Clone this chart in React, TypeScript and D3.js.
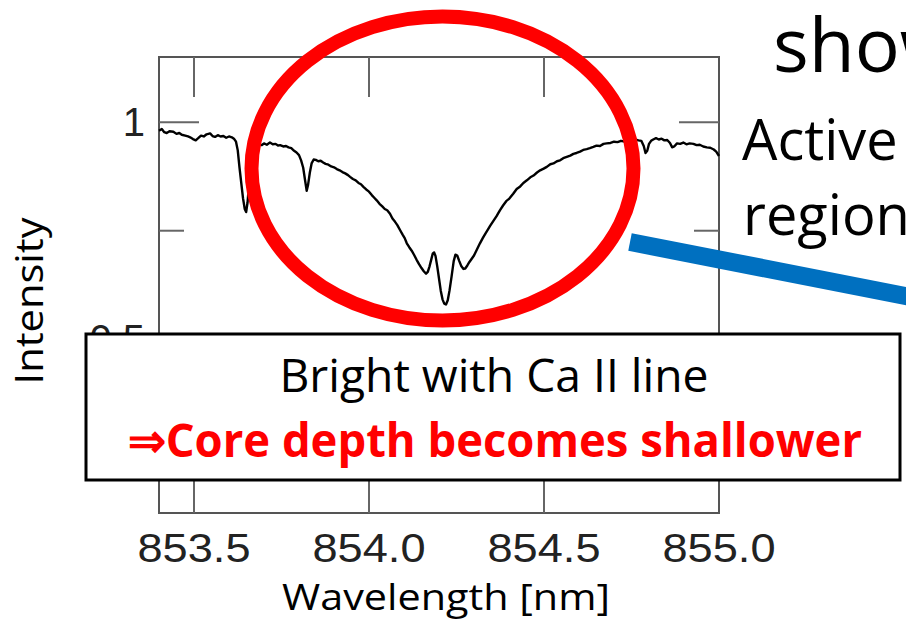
import * as d3 from "d3";

// Ca II 854.2 nm profile
const wavelength = [
  853.4, 853.408, 853.415, 853.422, 853.43, 853.441, 853.45, 853.458, 853.465, 853.475,
  853.483, 853.489, 853.497, 853.505, 853.512, 853.52, 853.528, 853.536, 853.546, 853.553,
  853.56, 853.568, 853.576, 853.584, 853.592, 853.6, 853.608, 853.615, 853.62, 853.625,
  853.63, 853.635, 853.64, 853.645, 853.649, 853.653, 853.658, 853.663, 853.668, 853.675,
  853.684, 853.693, 853.7, 853.708, 853.717, 853.725, 853.733, 853.74, 853.746, 853.755,
  853.763, 853.77, 853.778, 853.786, 853.793, 853.8, 853.806, 853.812, 853.817, 853.822,
  853.826, 853.831, 853.836, 853.842, 853.848, 853.855, 853.862, 853.869, 853.876, 853.884,
  853.892, 853.9, 853.908, 853.916, 853.924, 853.932, 853.94, 853.946, 853.954, 853.962,
  853.97, 853.977, 853.984, 853.992, 854.0, 854.008, 854.015, 854.022, 854.03, 854.038,
  854.045, 854.052, 854.06, 854.067, 854.074, 854.081, 854.089, 854.096, 854.102, 854.108,
  854.115, 854.122, 854.129, 854.136, 854.143, 854.15, 854.157, 854.163, 854.168, 854.173,
  854.178, 854.182, 854.186, 854.19, 854.195, 854.2, 854.205, 854.21, 854.215, 854.22,
  854.225, 854.23, 854.236, 854.242, 854.247, 854.252, 854.258, 854.264, 854.27, 854.275,
  854.281, 854.287, 854.293, 854.3, 854.308, 854.317, 854.325, 854.333, 854.34, 854.346,
  854.355, 854.364, 854.374, 854.383, 854.392, 854.401, 854.412, 854.422, 854.432, 854.441,
  854.451, 854.461, 854.47, 854.48, 854.489, 854.499, 854.508, 854.518, 854.527, 854.537,
  854.546, 854.555, 854.565, 854.575, 854.584, 854.593, 854.603, 854.612, 854.622, 854.631,
  854.641, 854.65, 854.66, 854.67, 854.679, 854.69, 854.7, 854.71, 854.72, 854.73,
  854.74, 854.75, 854.76, 854.77, 854.778, 854.785, 854.79, 854.795, 854.8, 854.806,
  854.812, 854.82, 854.828, 854.836, 854.844, 854.852, 854.86, 854.866, 854.872, 854.88,
  854.889, 854.898, 854.907, 854.916, 854.927, 854.936, 854.945, 854.955, 854.965, 854.975,
  854.985, 854.992, 855.0,
];

const intensity = [
  0.98, 0.984, 0.977, 0.975, 0.979, 0.978, 0.973, 0.975, 0.971, 0.969,
  0.967, 0.965, 0.961, 0.958, 0.963, 0.969, 0.967, 0.972, 0.974, 0.968,
  0.966, 0.97, 0.967, 0.968, 0.964, 0.967, 0.965, 0.961, 0.955, 0.935,
  0.895, 0.86, 0.825, 0.8, 0.793, 0.815, 0.865, 0.915, 0.94, 0.946,
  0.949, 0.947, 0.951, 0.948, 0.953, 0.949, 0.95, 0.946, 0.947, 0.944,
  0.945, 0.942, 0.94, 0.934, 0.93, 0.924, 0.912, 0.895, 0.868, 0.842,
  0.856, 0.884, 0.905, 0.914, 0.913, 0.91, 0.911, 0.907, 0.904, 0.902,
  0.898, 0.896, 0.892, 0.889, 0.885, 0.882, 0.878, 0.874, 0.869, 0.866,
  0.86, 0.857, 0.851, 0.845, 0.84, 0.832, 0.826, 0.82, 0.812, 0.806,
  0.8, 0.797, 0.789, 0.778, 0.771, 0.763, 0.751, 0.741, 0.733, 0.721,
  0.712, 0.704, 0.694, 0.683, 0.673, 0.664, 0.656, 0.651, 0.655, 0.668,
  0.684, 0.697, 0.7, 0.692, 0.668, 0.64, 0.612, 0.592, 0.582, 0.58,
  0.59, 0.612, 0.645, 0.68, 0.695, 0.693, 0.68, 0.668, 0.662, 0.663,
  0.67, 0.678, 0.685, 0.693, 0.706, 0.721, 0.733, 0.744, 0.753, 0.761,
  0.772, 0.783, 0.797, 0.808, 0.818, 0.824, 0.835, 0.846, 0.852, 0.86,
  0.866, 0.873, 0.877, 0.884, 0.889, 0.893, 0.897, 0.903, 0.905, 0.91,
  0.912, 0.917, 0.92, 0.923, 0.927, 0.929, 0.932, 0.936, 0.938, 0.94,
  0.943, 0.946, 0.945, 0.95, 0.951, 0.952, 0.955, 0.954, 0.957, 0.955,
  0.958, 0.957, 0.96, 0.958, 0.957, 0.945, 0.929, 0.934, 0.95, 0.957,
  0.96, 0.963, 0.96, 0.962, 0.958, 0.959, 0.952, 0.942, 0.944, 0.951,
  0.95, 0.953, 0.949, 0.951, 0.95, 0.947, 0.948, 0.944, 0.942, 0.941,
  0.937, 0.932, 0.922,
];

const xTicks = [853.5, 854.0, 854.5, 855.0];
const xTickLabels = ["853.5", "854.0", "854.5", "855.0"];
const yMajorTicks = [1, 0.5];
const yTickLabels = ["1", "0.5"];
const yMinorTicks = [0.75];

const W = 906;
const H = 622;
const frame = { left: 159, right: 719, top: 57, bottom: 513 };
const sans = "'Open Sans', 'Noto Sans', sans-serif";
const numFont = "'Liberation Sans', Arial, sans-serif";

export default function App() {
  const x = d3.scaleLinear().domain([853.4, 855.0]).range([frame.left, frame.right]);
  const y = d3.scaleLinear().domain([0.1, 1.15]).range([frame.bottom, frame.top]);

  const points = wavelength.map((w, i) => [w, intensity[i]] as [number, number]);
  const line = d3
    .line<[number, number]>()
    .x((d) => x(d[0]))
    .y((d) => y(d[1]));

  const majorLen = 40;
  const minorLen = 25;
  const tickColor = "#666";

  return (
    <svg
      width={W}
      height={H}
      style={{ position: "absolute", left: 0, top: 0, background: "#fff" }}
    >
      {/* frame */}
      <rect
        x={frame.left}
        y={frame.top}
        width={frame.right - frame.left}
        height={frame.bottom - frame.top}
        fill="none"
        stroke="#555"
        strokeWidth={2}
      />

      {/* x ticks, top and bottom, pointing inward */}
      {xTicks.slice(0, 3).map((t) => (
        <g key={"xt" + t} stroke={tickColor} strokeWidth={2}>
          <line x1={x(t)} x2={x(t)} y1={frame.top} y2={frame.top + majorLen} />
          <line x1={x(t)} x2={x(t)} y1={frame.bottom} y2={frame.bottom - majorLen} />
        </g>
      ))}

      {/* y ticks, left and right */}
      {yMajorTicks.map((t) => (
        <g key={"yt" + t} stroke={tickColor} strokeWidth={2}>
          <line x1={frame.left} x2={frame.left + majorLen} y1={y(t)} y2={y(t)} />
          <line x1={frame.right} x2={frame.right - majorLen} y1={y(t)} y2={y(t)} />
        </g>
      ))}
      {yMinorTicks.map((t) => (
        <g key={"ym" + t} stroke={tickColor} strokeWidth={2}>
          <line x1={frame.left} x2={frame.left + minorLen} y1={y(t)} y2={y(t)} />
          <line x1={frame.right} x2={frame.right - minorLen} y1={y(t)} y2={y(t)} />
        </g>
      ))}

      {/* tick labels */}
      {xTicks.map((t, i) => (
        <text
          key={"xl" + t}
          x={x(t)}
          y={562}
          textAnchor="middle"
          fontFamily={numFont}
          fontSize={41}
          fill="#222"
          textLength={113}
          lengthAdjust="spacingAndGlyphs"
        >
          {xTickLabels[i]}
        </text>
      ))}
      {yMajorTicks.map((t, i) => (
        <text
          key={"yl" + t}
          x={frame.left - 14}
          y={y(t) + 14}
          textAnchor="end"
          fontFamily={numFont}
          fontSize={40}
          fill="#222"
        >
          {yTickLabels[i]}
        </text>
      ))}

      {/* spectrum */}
      <path d={line(points) ?? ""} fill="none" stroke="#000" strokeWidth={2.4} strokeLinejoin="round" />

      {/* red ellipse around the line core */}
      <ellipse cx={442.5} cy={168.5} rx={191} ry={152} fill="none" stroke="#ff0000" strokeWidth={14} />

      {/* blue pointer */}
      <line x1={630} y1={242} x2={1000} y2={314.5} stroke="#0070c0" strokeWidth={18} />

      {/* annotation box */}
      <rect x={86} y={334} width={814} height={146} fill="#fff" stroke="#000" strokeWidth={3} />
      <text
        x={494}
        y={392}
        textAnchor="middle"
        fontFamily={sans}
        fontSize={45}
        fill="#000"
        textLength={429}
        lengthAdjust="spacingAndGlyphs"
      >
        Bright with Ca II line
      </text>
      <text
        x={495}
        y={457}
        textAnchor="middle"
        fontFamily={sans}
        fontSize={47}
        fontWeight="bold"
        fill="#ff0000"
        textLength={734}
        lengthAdjust="spacingAndGlyphs"
      >
        ⇒Core depth becomes shallower
      </text>

      {/* axis titles */}
      <text
        x={446}
        y={610}
        textAnchor="middle"
        fontFamily={sans}
        fontSize={37}
        fill="#000"
        textLength={328}
        lengthAdjust="spacingAndGlyphs"
      >
        Wavelength [nm]
      </text>
      <text
        transform="translate(43,301) rotate(-90)"
        textAnchor="middle"
        fontFamily={sans}
        fontSize={38}
        fill="#000"
        textLength={167}
        lengthAdjust="spacingAndGlyphs"
      >
        Intensity
      </text>

      {/* slide text on the right, cut off by the edge */}
      <text x={773} y={72} fontFamily={sans} fontSize={75} fill="#000">
        show
      </text>
      <text x={742} y={160} fontFamily={sans} fontSize={56} fill="#000">
        Active
      </text>
      <text x={743} y={235} fontFamily={sans} fontSize={56} fill="#000">
        region
      </text>
    </svg>
  );
}
